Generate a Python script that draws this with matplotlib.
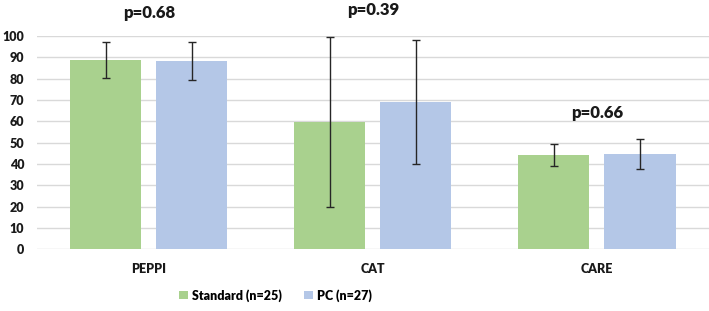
import matplotlib.pyplot as plt
import numpy as np

plt.rcParams['font.family'] = ['Lato', 'DejaVu Sans']
plt.rcParams['font.weight'] = 'heavy'

categories = ['PEPPI', 'CAT', 'CARE']
standard_mean = [88.8, 59.8, 44.3]
standard_err = [8.6, 40.0, 5.2]
pc_mean = [88.3, 69.2, 44.6]
pc_err = [9.0, 29.0, 7.1]
p_labels = ['p=0.68', 'p=0.39', 'p=0.66']
p_heights = [111, 112, 64]
legend_labels = ['Standard (n=25)', 'PC (n=27)']

green = '#A9D18E'
blue = '#B4C7E7'

fig = plt.figure(figsize=(7.09, 3.11), dpi=100)
ax = fig.add_axes([0.052, 0.198, 0.948, 0.686])

x = np.arange(len(categories))
width = 0.317
offset = 0.192

err_kw = dict(ecolor='#262626', elinewidth=1, capsize=3, capthick=1)
b1 = ax.bar(x - offset, standard_mean, width, color=green, label=legend_labels[0], zorder=3)
b2 = ax.bar(x + offset, pc_mean, width, color=blue, label=legend_labels[1], zorder=3)
e1 = ax.errorbar(x - offset, standard_mean, yerr=standard_err, fmt='none', zorder=4, **err_kw)
e2 = ax.errorbar(x + offset, pc_mean, yerr=pc_err, fmt='none', zorder=4, **err_kw)
for e in (e1, e2):
    for part in e.lines[1] + e.lines[2]:
        part.set_clip_on(False)

# p-values above each group
for xi, lab, h in zip(x, p_labels, p_heights):
    ax.text(xi, h, lab, ha='center', va='center', fontsize=12, fontweight='heavy',
            color='#1a1a1a', clip_on=False)

ax.set_xlim(-0.5, 2.5)
ax.set_ylim(0, 100)
ax.set_yticks(np.arange(0, 101, 10))
ax.set_xticks(x)
ax.set_xticklabels(categories, fontweight='heavy')
ax.set_yticklabels([str(v) for v in range(0, 101, 10)], fontweight='heavy')
ax.tick_params(axis='both', length=0, labelsize=9, colors='#1a1a1a')
ax.tick_params(axis='y', pad=9)
ax.tick_params(axis='x', pad=10)
ax.yaxis.grid(True, color='#D9D9D9', linewidth=1, zorder=0)
ax.set_axisbelow(True)
for s in ax.spines.values():
    s.set_visible(False)

ax.legend(handles=[b1, b2], loc='center', bbox_to_anchor=(0.355, -0.215),
          ncol=2, frameon=False, handlelength=0.7, handleheight=0.7,
          handletextpad=0.3, columnspacing=1.8,
          prop={'size': 9, 'weight': 'heavy'})

fig.savefig('out.png', dpi=100)
